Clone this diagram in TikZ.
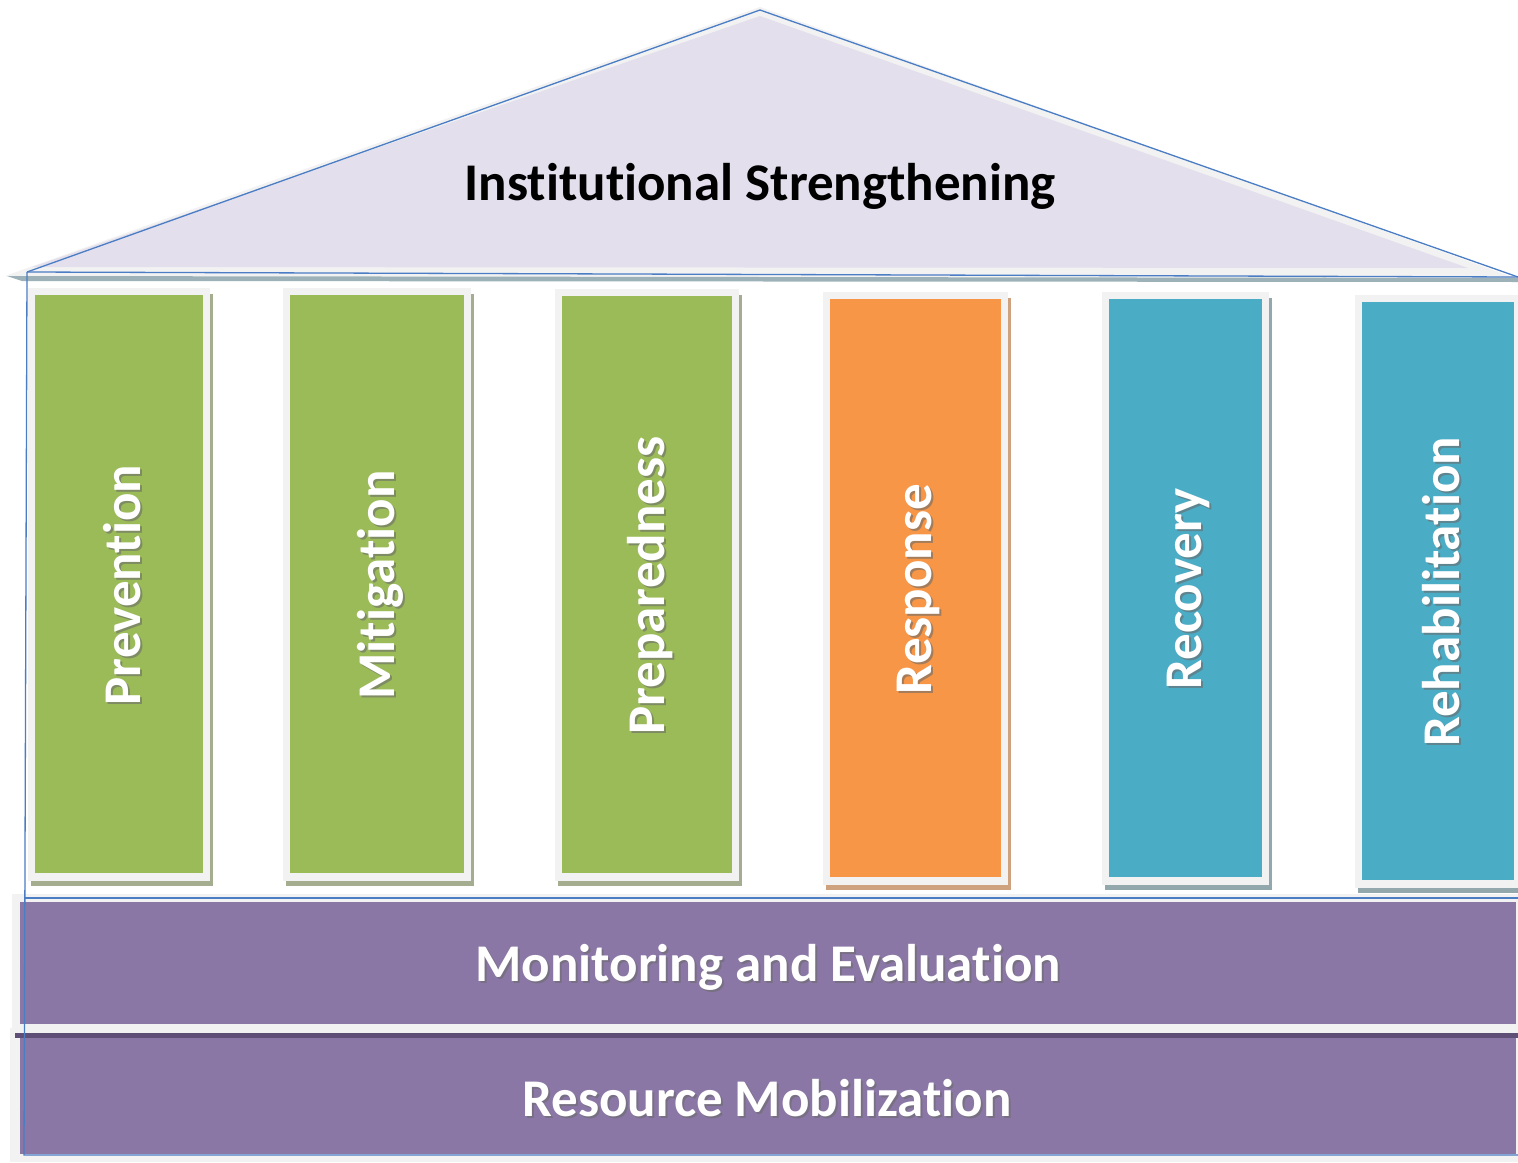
\documentclass[tikz,border=0pt]{standalone}
\usepackage{fontspec}
\setmainfont{Carlito}[Ligatures=NoCommon]
\definecolor{frameg}{HTML}{F2F2F2}
\definecolor{roofc}{HTML}{E4DFEC}
\definecolor{bandc}{HTML}{9DB2B8}
\definecolor{bluel}{HTML}{4A7DC4}
\definecolor{greenc}{HTML}{9BBB59}
\definecolor{greens}{HTML}{A5AD90}
\definecolor{orangec}{HTML}{F79646}
\definecolor{oranges}{HTML}{CFA27F}
\definecolor{bluec}{HTML}{4BACC6}
\definecolor{blues}{HTML}{92A8AD}
\definecolor{purplec}{HTML}{8B77A6}
\definecolor{purpled}{HTML}{5F4E76}
\definecolor{txtshadow}{HTML}{6B6B6B}
\tikzset{
  lbl/.style={font=\fontsize{53}{60}\selectfont\bfseries, inner sep=0pt},
  wlbl/.style={lbl, text=white},
  slbl/.style={lbl, text=txtshadow, opacity=0.6},
  outl/.style={draw=bluel, line width=1.3pt},
}
\newcommand{\mypillar}[8]{%
  \fill[#7] ({#2-4},{#3-1}) rectangle ({#4+10},{#5+13});
  \fill[frameg] ({#2-7},{#3-7}) rectangle ({#4+7},{#5+8});
  \fill[#6] (#2,#3) rectangle (#4,#5);
  \coordinate (#1c) at ({(#2+#4)/2+3},{(#3+#5)/2+1});
  \node[slbl, rotate=90] (#1s) at ($(#1c)+(2,2)$) {#8};
  \node[wlbl, rotate=90] (#1) at (#1c) {#8};
}
\usetikzlibrary{calc}
\begin{document}
\begin{tikzpicture}[x=1pt,y=-1pt]
\useasboundingbox[fill=white] (0,0) rectangle (1518,1162);
% roof
\fill[frameg] (5,276) -- (760,7) -- (1518,279) -- cycle;
\fill[roofc] (32,267) -- (760,16) -- (1468,268) -- cycle;
\fill[bandc] (7,276) -- (1518,278) -- (1518,282) -- (22,281) -- cycle;
\node[lbl] (roof) at (760,186) {Institutional Strengthening};
% pillars
\mypillar{p1}{35}{295}{203}{873}{greenc}{greens}{Prevention}
\mypillar{p2}{290}{295}{464}{873}{greenc}{greens}{Mitigation}
\mypillar{p3}{562}{296}{732}{873}{greenc}{greens}{Preparedness}
\mypillar{p4}{830}{299}{1001}{877}{orangec}{oranges}{Response}
\mypillar{p5}{1109}{299}{1262}{877}{bluec}{blues}{Recovery}
\mypillar{p6}{1362}{302}{1514}{880}{bluec}{blues}{Rehabilitation}
% monitoring bar
\fill[frameg] (12,894) rectangle (1518,1032);
\fill[purplec] (20,902) rectangle (1516,1024);
\node[slbl] (mes) at (770,969) {Monitoring and Evaluation};
\node[wlbl] (me) at (768,967) {Monitoring and Evaluation};
% resource bar
\fill[frameg] (10,1028) rectangle (1518,1162);
\fill[purpled] (15,1033) rectangle (1518,1038);
\fill[purplec] (20,1038) rectangle (1516,1154);
\node[slbl] (rms) at (769,1100) {Resource Mobilization};
\node[wlbl] (rm) at (767,1098) {Resource Mobilization};
% blue outline
\draw[outl] (27,272) -- (760,10) -- (1518,277);
\draw[outl] (27,272) -- (1518,277);
\draw[outl] (27,272) -- (24,1155) -- (1518,1155);
\draw[outl] (24,898) -- (1518,898);
\end{tikzpicture}
\end{document}
